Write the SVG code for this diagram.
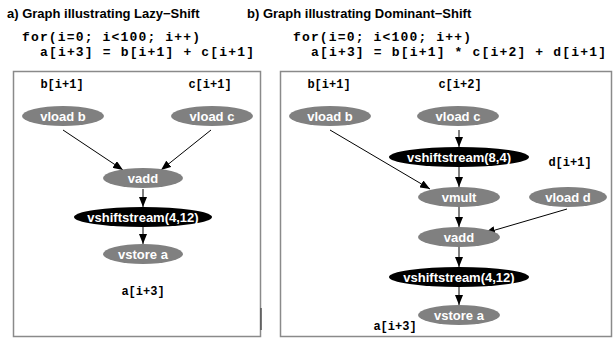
<svg xmlns="http://www.w3.org/2000/svg" width="613" height="339" viewBox="0 0 613 339">
<defs>
<marker id="arr" markerWidth="10" markerHeight="8" refX="10" refY="4" orient="auto" markerUnits="userSpaceOnUse">
<path d="M0,0 L10,4 L0,8 Z" fill="#000"/>
</marker>
</defs>
<style>
.title{font-family:"Liberation Sans",Arial,sans-serif;font-weight:bold;font-size:13px;fill:#000}
.code{font-family:"Liberation Mono","Courier New",monospace;font-weight:bold;font-size:13px;fill:#000;white-space:pre}
.lbl{font-family:"Liberation Mono","Courier New",monospace;font-weight:bold;font-size:12px;fill:#000;text-anchor:middle}
.box{fill:#fff;stroke:#8a8a8a;stroke-width:1.5}
.gn{fill:#808080}
.bn{fill:#000}
.nt{font-family:"Liberation Sans",Arial,sans-serif;font-weight:bold;font-size:13px;fill:#fff;text-anchor:middle}
.e{stroke:#000;stroke-width:1;fill:none;marker-end:url(#arr)}
</style>
<rect width="613" height="339" fill="#fff"/>
<text class="title" x="7" y="18">a) Graph illustrating Lazy−Shift</text>
<text class="title" x="247" y="18">b) Graph illustrating Dominant−Shift</text>
<text class="code" x="22" y="41" xml:space="preserve" textLength="178" lengthAdjust="spacing">for(i=0; i&lt;100; i++)</text>
<text class="code" x="40" y="56" xml:space="preserve" textLength="214" lengthAdjust="spacing">a[i+3] = b[i+1] + c[i+1]</text>
<text class="code" x="293" y="41" xml:space="preserve" textLength="178" lengthAdjust="spacing">for(i=0; i&lt;100; i++)</text>
<text class="code" x="311" y="56" xml:space="preserve" textLength="295" lengthAdjust="spacing">a[i+3] = b[i+1] * c[i+2] + d[i+1]</text>
<rect class="box" x="13.5" y="71.5" width="247" height="265"/>
<line x1="261" y1="308" x2="261" y2="330" stroke="#555" stroke-width="1.5"/>
<rect class="box" x="280.5" y="71.5" width="331" height="265"/>
<g id="labels-a">
<text class="lbl" x="62" y="88">b[i+1]</text>
<text class="lbl" x="210" y="88">c[i+1]</text>
<text class="lbl" x="143" y="295">a[i+3]</text>
</g>
<g id="labels-b">
<text class="lbl" x="329" y="88">b[i+1]</text>
<text class="lbl" x="460" y="88">c[i+2]</text>
<text class="lbl" x="570" y="166">d[i+1]</text>
<text class="lbl" x="395" y="330">a[i+3]</text>
</g>
<g id="connectors">
<line class="e" x1="63" y1="130" x2="123" y2="170"/>
<line class="e" x1="211" y1="130" x2="161" y2="170"/>
<line class="e" x1="143" y1="189" x2="143" y2="207"/>
<line class="e" x1="143" y1="227" x2="143" y2="244"/>
<line class="e" x1="330" y1="130" x2="430" y2="189"/>
<line class="e" x1="459" y1="130" x2="459" y2="147"/>
<line class="e" x1="459" y1="167" x2="459" y2="187"/>
<line class="e" x1="459" y1="207" x2="459" y2="227"/>
<line class="e" x1="567" y1="209" x2="485" y2="233"/>
<line class="e" x1="459" y1="247" x2="459" y2="267"/>
<line class="e" x1="459" y1="287" x2="459" y2="305"/>
</g>
<g id="a-vload-b"><ellipse class="gn" cx="63" cy="116" rx="41" ry="10"/><text class="nt" x="63" y="120.5">vload b</text></g>
<g id="a-vload-c"><ellipse class="gn" cx="212" cy="116" rx="41" ry="10"/><text class="nt" x="212" y="120.5">vload c</text></g>
<g id="a-vadd"><ellipse class="gn" cx="143" cy="178" rx="40" ry="10"/><text class="nt" x="143" y="182.5">vadd</text></g>
<g id="a-vshift"><ellipse class="bn" cx="143" cy="217" rx="69" ry="10"/><text class="nt" x="143" y="221.5">vshiftstream(4,12)</text></g>
<g id="a-vstore"><ellipse class="gn" cx="143" cy="254" rx="40" ry="10"/><text class="nt" x="143" y="258.5">vstore a</text></g>
<g id="b-vload-b"><ellipse class="gn" cx="330" cy="116" rx="41" ry="10"/><text class="nt" x="330" y="120.5">vload b</text></g>
<g id="b-vload-c"><ellipse class="gn" cx="458" cy="116" rx="41" ry="10"/><text class="nt" x="458" y="120.5">vload c</text></g>
<g id="b-vshift1"><ellipse class="bn" cx="459" cy="157" rx="70" ry="10"/><text class="nt" x="459" y="161.5">vshiftstream(8,4)</text></g>
<g id="b-vmult"><ellipse class="gn" cx="459" cy="197" rx="41" ry="10"/><text class="nt" x="459" y="201.5">vmult</text></g>
<g id="b-vload-d"><ellipse class="gn" cx="568" cy="197" rx="39" ry="10"/><text class="nt" x="568" y="201.5">vload d</text></g>
<g id="b-vadd"><ellipse class="gn" cx="459" cy="237" rx="41" ry="10"/><text class="nt" x="459" y="241.5">vadd</text></g>
<g id="b-vshift2"><ellipse class="bn" cx="459" cy="277" rx="70" ry="10"/><text class="nt" x="459" y="281.5">vshiftstream(4,12)</text></g>
<g id="b-vstore"><ellipse class="gn" cx="459" cy="315" rx="41" ry="10"/><text class="nt" x="459" y="319.5">vstore a</text></g>
</svg>
